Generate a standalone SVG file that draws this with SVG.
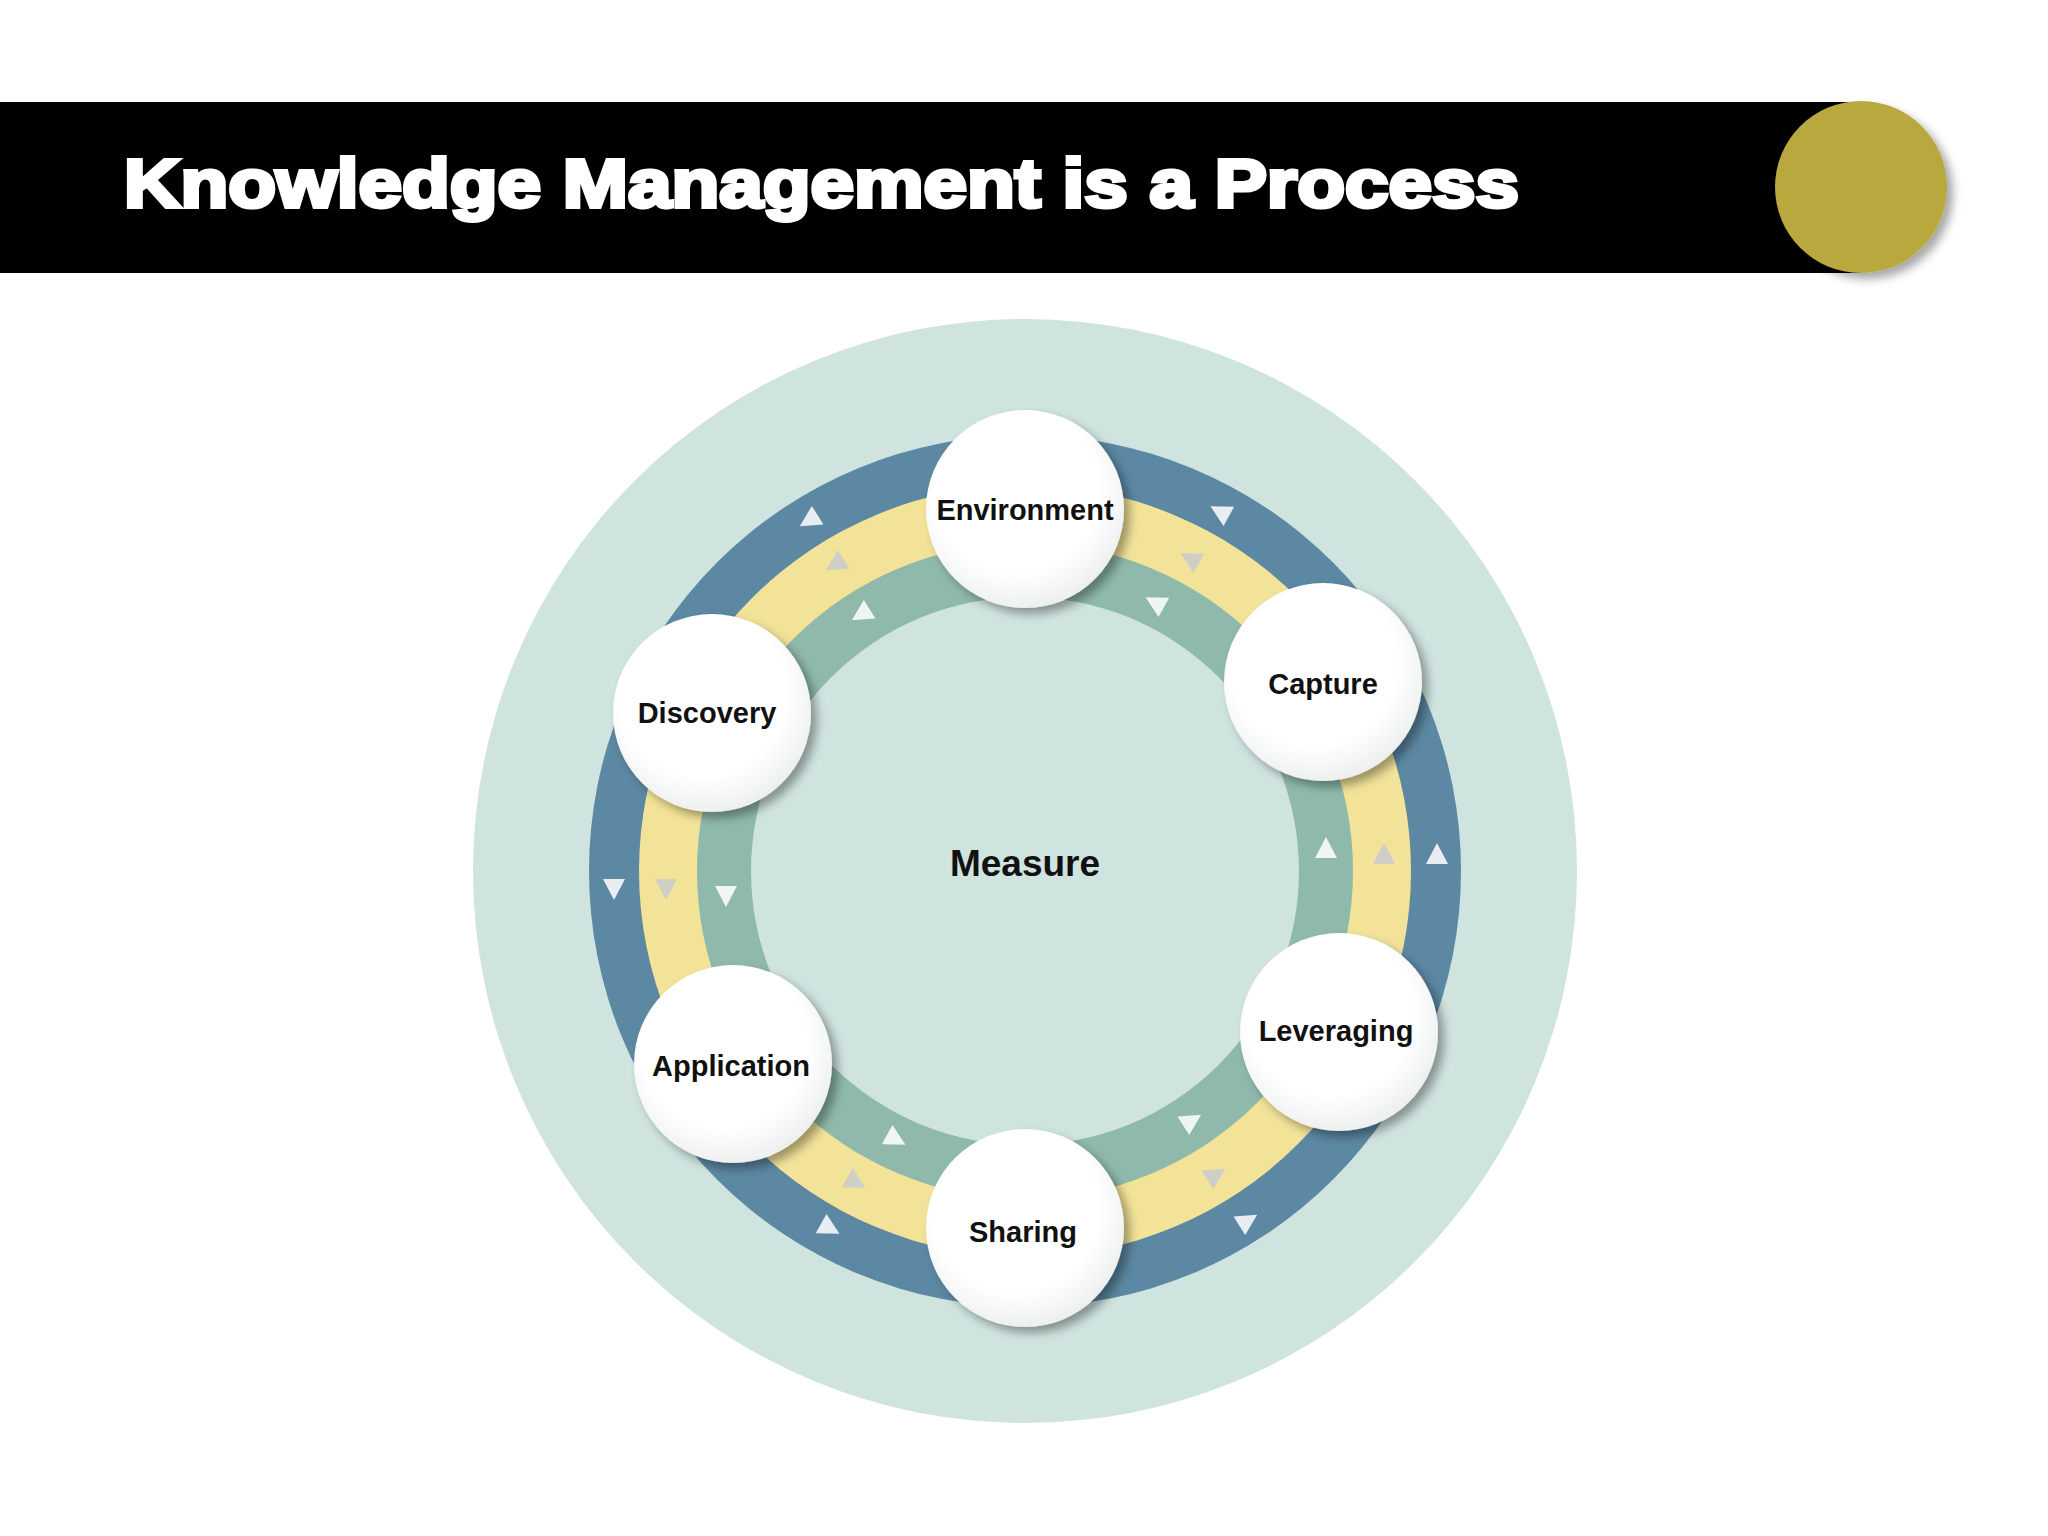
<svg xmlns="http://www.w3.org/2000/svg" width="2048" height="1536" viewBox="0 0 2048 1536">
<defs>
<filter id="sh" x="-30%" y="-30%" width="160%" height="160%"><feDropShadow dx="6" dy="6" stdDeviation="5" flood-color="#000" flood-opacity="0.35"/></filter>
<radialGradient id="ng" cx="0.45" cy="0.4" r="0.6"><stop offset="0.7" stop-color="#fff"/><stop offset="1" stop-color="#eef0ef"/></radialGradient>
<path id="tri" d="M0,-12 L11,9 L-11,9 Z"/>
</defs>
<style>
.lbl{font-family:"Liberation Sans",Arial,sans-serif;font-weight:bold;font-size:29px;fill:#111;text-anchor:middle;dominant-baseline:central}
.node{fill:url(#ng);filter:url(#sh)}
.ta{fill:#fff;opacity:0.85}
.tb{fill:#ccc;opacity:0.9}
</style>
<rect width="2048" height="1536" fill="#fff"/>
<rect x="0" y="102" width="1860" height="171" fill="#000"/>
<circle cx="1861" cy="187" r="86" fill="#b8a83d" filter="url(#sh)"/>
<text x="124" y="207" textLength="1395" lengthAdjust="spacingAndGlyphs" font-family="'Liberation Sans',Arial,sans-serif" font-weight="900" font-size="68" fill="#fff" stroke="#fff" stroke-width="4">Knowledge Management is a Process</text>
<circle cx="1025" cy="871" r="552" fill="#cfe3df"/>
<circle cx="1025" cy="871" r="436" fill="#5c88a3"/>
<circle cx="1025" cy="871" r="386" fill="#f2e399"/>
<circle cx="1025" cy="871" r="328" fill="#8fb9aa"/>
<circle cx="1025" cy="871" r="274" fill="#cfe3df"/>
<g id="connectors">
<use href="#tri" class="ta" transform="translate(810,520) rotate(238)"/>
<use href="#tri" class="ta" transform="translate(1221,512) rotate(-61)"/>
<use href="#tri" class="ta" transform="translate(1437,855)"/>
<use href="#tri" class="ta" transform="translate(1247,1221) rotate(58)"/>
<use href="#tri" class="ta" transform="translate(829,1228) rotate(119)"/>
<use href="#tri" class="ta" transform="translate(614,888) rotate(180)"/>
<use href="#tri" class="tb" transform="translate(836,564) rotate(238)"/>
<use href="#tri" class="tb" transform="translate(1191,559) rotate(-61)"/>
<use href="#tri" class="tb" transform="translate(1384,855)"/>
<use href="#tri" class="tb" transform="translate(1215,1175) rotate(58)"/>
<use href="#tri" class="tb" transform="translate(855,1182) rotate(119)"/>
<use href="#tri" class="tb" transform="translate(666,888) rotate(180)"/>
<use href="#tri" class="ta" transform="translate(862,614) rotate(238)"/>
<use href="#tri" class="ta" transform="translate(1156,603) rotate(-61)"/>
<use href="#tri" class="ta" transform="translate(1326,849)"/>
<use href="#tri" class="ta" transform="translate(1191,1121) rotate(58)"/>
<use href="#tri" class="ta" transform="translate(895,1139) rotate(119)"/>
<use href="#tri" class="ta" transform="translate(726,895) rotate(180)"/>
</g>
<text x="1025" y="863" class="lbl" style="font-size:37px">Measure</text>
<g id="environment"><circle class="node" cx="1025" cy="509" r="99"/><text class="lbl" x="1025" y="510">Environment</text></g>
<g id="capture"><circle class="node" cx="1323" cy="682" r="99"/><text class="lbl" x="1323" y="684">Capture</text></g>
<g id="leveraging"><circle class="node" cx="1339" cy="1032" r="99"/><text class="lbl" x="1336" y="1031">Leveraging</text></g>
<g id="sharing"><circle class="node" cx="1025" cy="1228" r="99"/><text class="lbl" x="1023" y="1232">Sharing</text></g>
<g id="application"><circle class="node" cx="733" cy="1064" r="99"/><text class="lbl" x="731" y="1066">Application</text></g>
<g id="discovery"><circle class="node" cx="712" cy="713" r="99"/><text class="lbl" x="707" y="713">Discovery</text></g>
</svg>
